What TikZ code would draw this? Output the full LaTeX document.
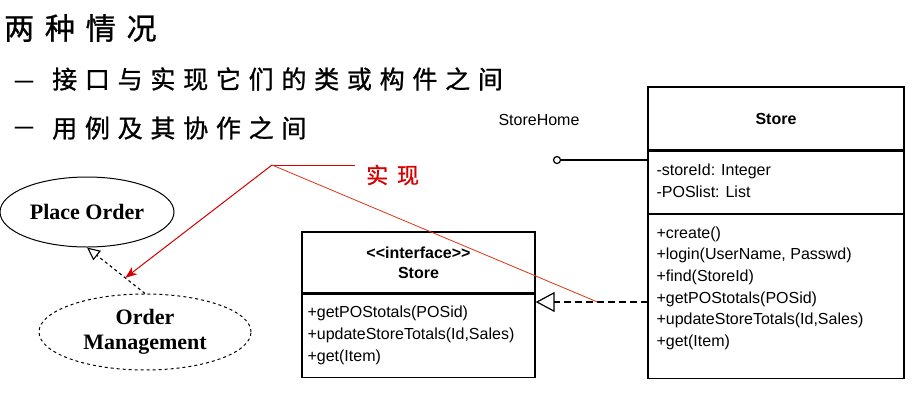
\documentclass[tikz,border=0pt]{standalone}
\usepackage{fontspec}
\setmainfont{Liberation Serif}
\setsansfont{Liberation Sans}
\newfontfamily\cjkt[LetterSpace=36,FakeBold=1]{Noto Sans CJK SC}
\newfontfamily\cjksp[LetterSpace=31,FakeBold=1]{Noto Sans CJK SC}
\newfontfamily\cjkr[LetterSpace=40,FakeBold=0.8]{Noto Sans CJK SC}
\usetikzlibrary{arrows.meta,shapes.geometric,calc}
\definecolor{kred}{RGB}{215,0,0}
\definecolor{lred}{RGB}{225,50,20}
\begin{document}
\begin{tikzpicture}[x=1pt,y=-1pt,
  uc/.style={ellipse,draw,line width=1pt,inner sep=0pt,align=center,
    font=\rmfamily\bfseries\fontsize{22}{25}\selectfont},
  box/.style={rectangle,draw,line width=1.3pt,inner sep=0pt},
  cls/.style={font=\sffamily\fontsize{16}{21.6}\selectfont,align=left,inner sep=0pt},
  clsb/.style={font=\sffamily\bfseries\fontsize{16}{20}\selectfont,align=center,inner sep=0pt},
  dsh/.style={dash pattern=on 7pt off 4pt,line width=1.2pt},
  real/.style={dsh,-{Triangle[open,length=19pt,width=20pt,line width=1.2pt]}},
  bdash/.style={anchor=base,inner sep=0pt,font=\rmfamily\fontsize{36}{36}\selectfont}]
\useasboundingbox (0,0) rectangle (916,400);
% texts at top
\node[anchor=west,inner sep=0pt,font=\cjkt\fontsize{30}{30}\selectfont] (title) at (4,28) {两种情况};
\node[bdash] (d1) at (24,90) {–};
\node[anchor=west,inner sep=0pt,font=\cjksp\fontsize{25}{25}\selectfont] (b1) at (52,79) {接口与实现它们的类或构件之间};
\node[bdash] (d2) at (24,136) {–};
\node[anchor=west,inner sep=0pt,font=\cjksp\fontsize{25}{25}\selectfont] (b2) at (52,128) {用例及其协作之间};
% use cases
\node[uc,minimum width=174pt,minimum height=70pt] (po) at (87,212) {Place Order};
\node[uc,dashed,minimum width=212pt,minimum height=76pt] (om) at (145,332) {Order\\Management};
\draw[dashed,line width=1.1pt,-{Triangle[open,length=13pt,width=12pt,line width=1.1pt]}] (om.north) -- (po.south);
% interface box
\node[box,minimum width=233pt,minimum height=61pt] (ih) at (418.5,262.5) {};
\node[clsb] (iht) at (ih.center) {<{}<interface>{}>\\Store};
\node[box,minimum width=233pt,minimum height=83pt,anchor=north] (ib) at (ih.south) {};
\node[cls,anchor=west,font=\sffamily\fontsize{16}{22}\selectfont] (ibt) at ($(ib.west)+(6,0)$) {+getPOStotals(POSid)\\+updateStoreTotals(Id,Sales)\\+get(Item)};
% Store class
\node[box,minimum width=256pt,minimum height=63pt] (sh) at (776,118.5) {};
\node[clsb] (sht) at (sh.center) {Store};
\node[box,minimum width=256pt,minimum height=62pt,anchor=north] (sa) at (sh.south) {};
\node[cls,anchor=west] (sat) at ($(sa.west)+(9,-1.5)$) {-storeId: Integer\\-POSlist: List};
\node[box,minimum width=256pt,minimum height=164pt,anchor=north] (sm) at (sa.south) {};
\node[cls,anchor=north west] (smt) at ($(sm.north west)+(9,12.5)$) {+create()\\+login(UserName, Passwd)\\+find(StoreId)\\+getPOStotals(POSid)\\+updateStoreTotals(Id,Sales)\\+get(Item)};
% lollipop
\node[font=\sffamily\fontsize{16}{16}\selectfont,inner sep=0pt] (shl) at (539,120) {StoreHome};
\node[circle,draw,line width=1.2pt,minimum size=7pt,inner sep=0pt] (lp) at (557,160) {};
\draw[line width=2pt] (lp.east) -- (lp -| sa.west);
% realization
\coordinate (r1) at (648,302);
\draw[real] (r1) -- (r1 -| ib.east);
% red annotation
\coordinate (k) at (272,165);
\coordinate (kr) at (355,165);
\coordinate (ka) at ($(om.north)!0.34!(po.south)$);
\coordinate (r2) at ($(r1)!0.45!(r1 -| ib.east)$);
\node[anchor=west,inner sep=0pt,text=kred,font=\cjkr\fontsize{22}{22}\selectfont] (lbl) at (366,175) {实现};
\draw[kred,line width=1pt] (kr) -- (k);
\draw[kred,line width=1pt,-{Stealth[length=12pt,width=9pt]}] (k) -- (ka);
\draw[lred,line width=0.8pt] (k) -- (r2);
\end{tikzpicture}
\end{document}
